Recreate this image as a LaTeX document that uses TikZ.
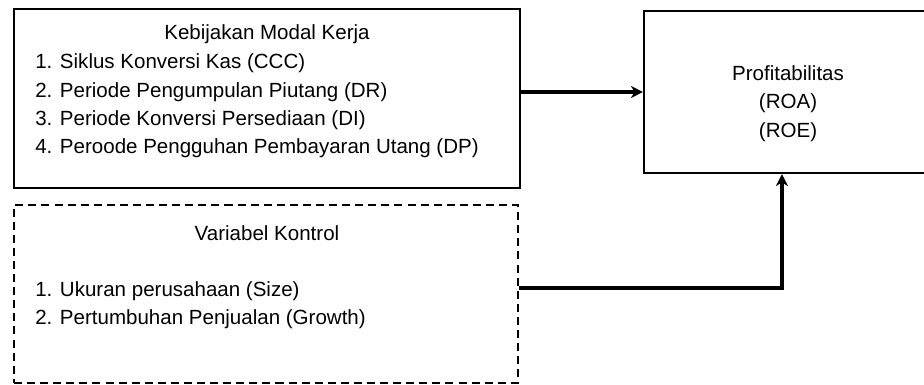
\documentclass[tikz,border=0pt]{standalone}
\usepackage{fontspec}
\setmainfont{Liberation Sans}
\usepackage{tikz}
\usetikzlibrary{arrows.meta,positioning}

\begin{document}
\begin{tikzpicture}[x=1cm,y=1cm,font=\fontsize{14.6}{20}\selectfont]
  \tikzset{blok/.style={draw=black,line width=1.5pt,inner sep=0pt},
    blokputus/.style={blok,dash pattern=on 5.7pt off 3.6pt},
    judul/.style={inner sep=0pt,anchor=base},
    butir/.style={inner sep=0pt,anchor=base west},
    panah/.style={-{Stealth[length=8.5pt,width=8.5pt,inset=2.5pt]},line width=2.3pt}}
  \useasboundingbox (0,0) rectangle (23.1,9.6);
  % kotak kiri atas
  \node[blok,minimum width=12.65cm,minimum height=4.475cm] (kmk) at (6.675,7.1375) {};
  \node[judul] (kmkjudul) at (6.675,8.625) {Kebijakan Modal Kerja};
  \node[butir] (kmka) at (0.875,7.9) {1. Siklus Konversi Kas (CCC)};
  \node[butir] (kmkb) at (0.875,7.175) {2. Periode Pengumpulan Piutang (DR)};
  \node[butir] (kmkc) at (0.875,6.475) {3. Periode Konversi Persediaan (DI)};
  \node[butir] (kmkd) at (0.875,5.775) {4. Peroode Pengguhan Pembayaran Utang (DP)};
  % kotak kontrol
  \node[blokputus,minimum width=12.6cm,minimum height=4.45cm] (ktrl) at (6.65,2.25) {};
  \node[judul] (ktrljudul) at (6.675,3.6) {Variabel Kontrol};
  \node[butir] (ktrla) at (0.875,2.2) {1. Ukuran perusahaan (Size)};
  \node[butir] (ktrlb) at (0.875,1.5) {2. Pertumbuhan Penjualan (Growth)};
  % kotak kanan
  \node[blok,minimum width=7.2cm,minimum height=4.05cm] (prof) at (19.7,7.3) {};
  \node[judul] (profa) at (19.7,7.6) {Profitabilitas};
  \node[judul] (profb) at (19.7,6.9) {(ROA)};
  \node[judul] (profc) at (19.7,6.175) {(ROE)};
  \draw[panah] (kmk.east |- prof.west) -- (prof.west);
  \draw[panah] ([yshift=4.3pt]ktrl.east) -| ([xshift=-4.3pt]prof.south);
\end{tikzpicture}
\end{document}
